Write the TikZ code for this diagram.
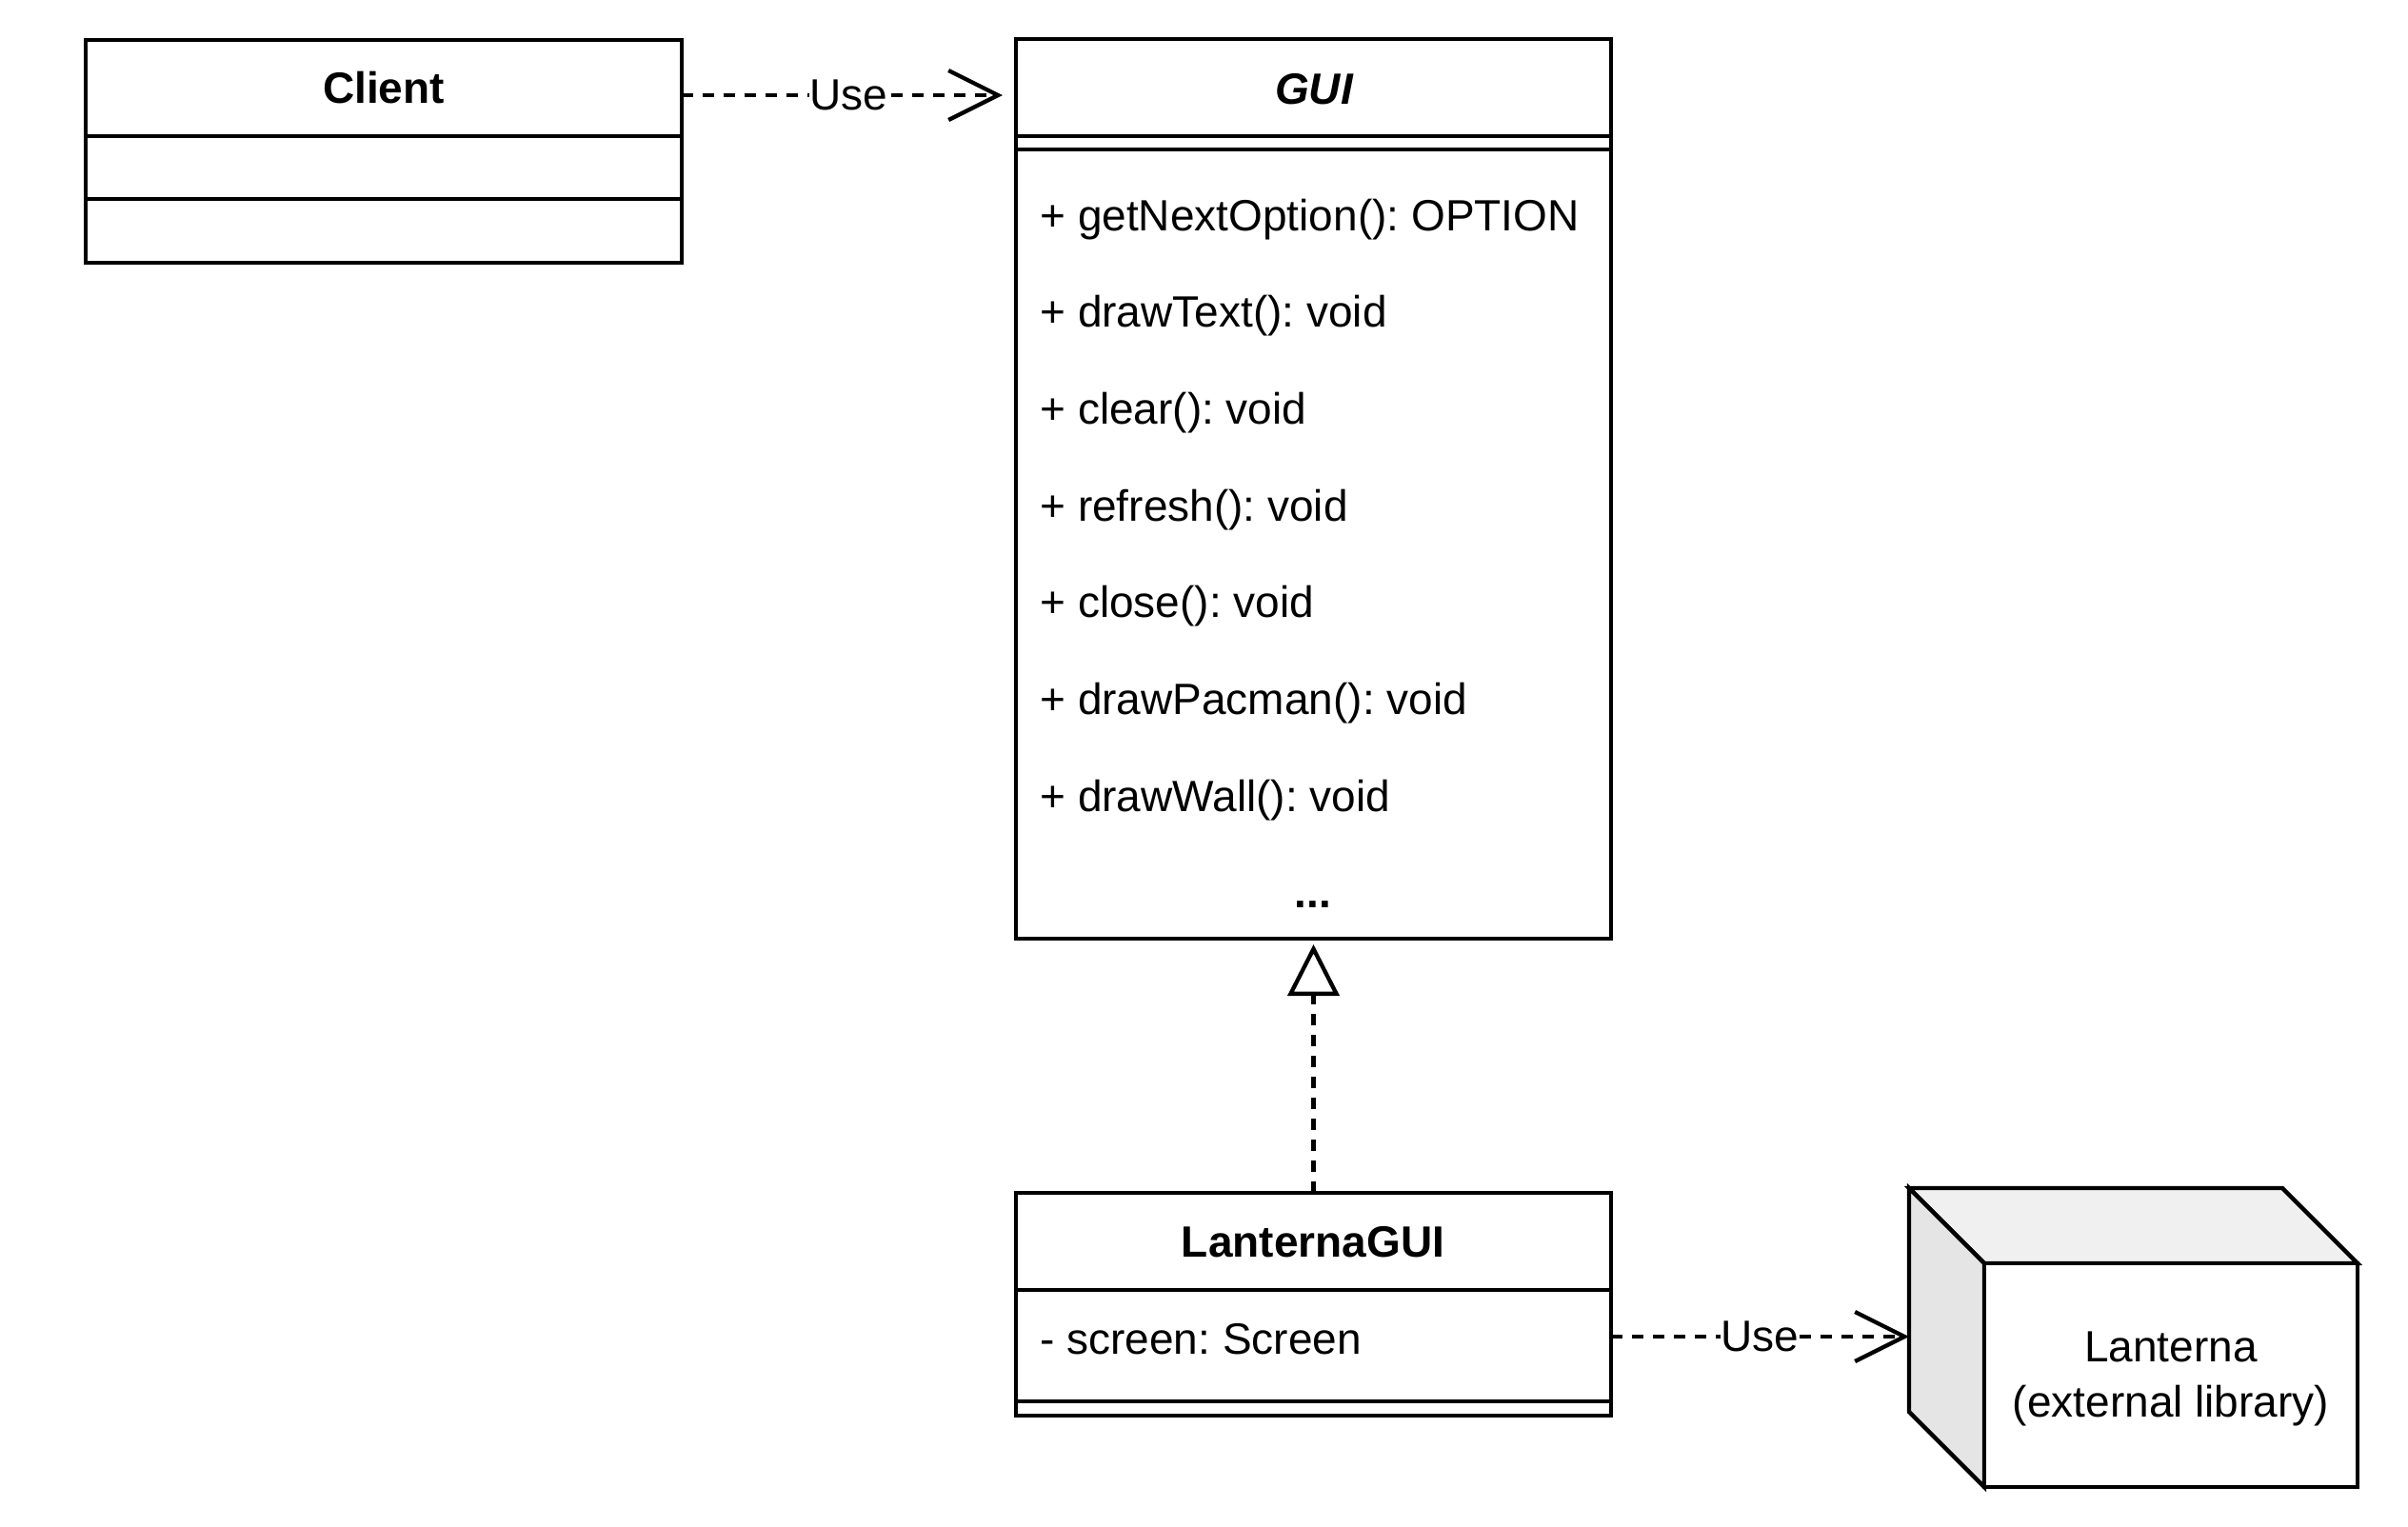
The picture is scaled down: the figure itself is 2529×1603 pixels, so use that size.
\documentclass[tikz,border=0pt]{standalone}
\usepackage{fontspec}
\setmainfont{Liberation Sans}
\usetikzlibrary{arrows.meta}
\frenchspacing

\begin{document}
\begin{tikzpicture}[x=0.5pt,y=-0.5pt]
\tikzset{
  lw/.style={line width=2.15pt},
  classbox/.style={lw, draw=black, fill=white, inner sep=0pt, outer sep=0pt, minimum width=313pt},
  sep/.style={lw, draw=black},
  txt/.style={inner sep=0pt, font=\fontsize{23}{28}\selectfont},
  title/.style={txt, font=\fontsize{23}{28}\selectfont\bfseries, anchor=base},
  member/.style={txt, anchor=base west},
  dep/.style={lw, dash pattern=on 6pt off 5pt, -{Straight Barb[length=26pt,width=26pt,line width=2.15pt]}},
  realize/.style={lw, dash pattern=on 6pt off 5pt, -{Triangle[open,length=27pt,width=27pt,line width=2.15pt,fill=white]}},
  edgelabel/.style={txt, fill=white, inner xsep=0.5pt, inner ysep=1pt},
}
\useasboundingbox (0,0) rectangle (2529,1603);

% ---- Client ----
\node[classbox, minimum height=117pt, anchor=north west] (client) at (90,42) {};
\draw[sep] (90,143) -- (716,143);
\draw[sep] (90,209) -- (716,209);
\node[title] (clientname) at (403,108) {Client};

% ---- GUI (interface) ----
\node[classbox, minimum width=312.5pt, minimum height=472.5pt, anchor=north west] (gui) at (1067,41) {};
\draw[sep] (1067,143) -- (1692,143);
\draw[sep] (1067,157) -- (1692,157);
\node[title, font=\fontsize{23}{28}\selectfont\bfseries\itshape] (guiname) at (1380,109) {GUI};
\node[member] (m1) at (1092,242) {+ getNextOption(): OPTION};
\node[member] (m2) at (1092,343) {+ drawText(): void};
\node[member] (m3) at (1092,445) {+ clear(): void};
\node[member] (m4) at (1092,547) {+ refresh(): void};
\node[member] (m5) at (1092,648) {+ close(): void};
\node[member] (m6) at (1092,750) {+ drawPacman(): void};
\node[member] (m7) at (1092,852) {+ drawWall(): void};
\node[title] (more) at (1379,953) {...};

% ---- LanternaGUI ----
\node[classbox, minimum width=312.5pt, minimum height=117pt, anchor=north west] (lgui) at (1067,1253) {};
\draw[sep] (1067,1355) -- (1692,1355);
\draw[sep] (1067,1472) -- (1692,1472);
\node[title] (lguiname) at (1379,1320) {LanternaGUI};
\node[member] (a1) at (1092,1422) {- screen: Screen};

% ---- Lanterna (3D box) ----
\draw[lw, fill=black!6, line join=miter] (2005,1248) -- (2397,1248) -- (2476,1327) -- (2084,1327) -- cycle;
\draw[lw, fill=black!10, line join=miter] (2005,1248) -- (2084,1327) -- (2084,1562) -- (2005,1483) -- cycle;
\node[lw, draw=black, fill=white, inner sep=0pt, outer sep=0pt, minimum width=196pt, minimum height=117.5pt] (lantern) at (2280,1444.5) {};
\node[txt, anchor=base] (lname1) at (2280,1430) {Lanterna};
\node[txt, anchor=base] (lname2) at (2280,1488) {(external library)};
\coordinate (lanternin) at (2005,1404);

% ---- connectors ----
\coordinate (clientout) at (716,100);
\draw[dep, shorten >=7pt] (clientout) -- (gui.west |- clientout)
  node[edgelabel, midway] {Use};
\draw[dep] (lgui.east |- lanternin) -- (lanternin)
  node[edgelabel, midway] {Use};
\draw[realize, shorten >=3pt] (lgui.north) -- (gui.south);
\end{tikzpicture}
\end{document}
